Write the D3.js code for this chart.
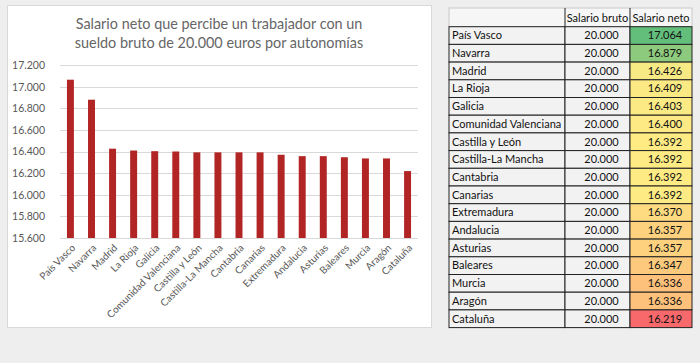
<!DOCTYPE html>
<html>
<head>
<meta charset="utf-8">
<script src="https://cdn.jsdelivr.net/npm/d3@7"></script>
<style>
  body { margin: 0; background: #efeeee; }
  svg { display: block; }
</style>
</head>
<body>
<div id="chart"></div>
<script>
const regions = ['País Vasco', 'Navarra', 'Madrid', 'La Rioja', 'Galicia', 'Comunidad Valenciana',
  'Castilla y León', 'Castilla-La Mancha', 'Cantabria', 'Canarias', 'Extremadura', 'Andalucia',
  'Asturias', 'Baleares', 'Murcia', 'Aragón', 'Cataluña'];
const neto = [17064, 16879, 16426, 16409, 16403, 16400, 16392, 16392, 16392, 16392, 16370, 16357,
  16357, 16347, 16336, 16336, 16219];
const bruto = [20000, 20000, 20000, 20000, 20000, 20000, 20000, 20000, 20000, 20000, 20000, 20000,
  20000, 20000, 20000, 20000, 20000];
const yTicks = [15600, 15800, 16000, 16200, 16400, 16600, 16800, 17000, 17200];
const titleLines = ['Salario neto que percibe un trabajador con un', 'sueldo bruto de 20.000 euros por autonomías'];
const headers = ['', 'Salario bruto', 'Salario neto'];

const es = d3.formatLocale({ decimal: ',', thousands: '.', grouping: [3], currency: ['', '€'] });
const fmt = es.format(',');

const W = 700, H = 363;
const svg = d3.select('#chart').append('svg').attr('width', W).attr('height', H);

// ---- chart panel
svg.append('rect')
  .attr('x', 7.5).attr('y', 5.5).attr('width', 424).attr('height', 322)
  .attr('fill', '#fff').attr('stroke', '#d9d9d9');

const textColor = '#595959';
const font = 'Lato, "Open Sans", sans-serif';

svg.append('g').selectAll('text')
  .data(titleLines)
  .join('text')
  .attr('x', 219)
  .attr('y', (d, i) => 29 + i * 19)
  .attr('text-anchor', 'middle')
  .attr('fill', '#666')
  .style('font-family', font)
  .style('font-size', '14.4px')
  .text((d) => d);

const x = d3.scaleBand().domain(regions).range([60, 418]).paddingInner(0.67).paddingOuter(0.33);
const y = d3.scaleLinear().domain([15600, 17200]).range([238, 65]);

const grid = svg.append('g');
grid.selectAll('line')
  .data(yTicks)
  .join('line')
  .attr('x1', 60).attr('x2', 418)
  .attr('y1', (d) => Math.round(y(d)) + 0.5)
  .attr('y2', (d) => Math.round(y(d)) + 0.5)
  .attr('stroke', '#d9d9d9');

const yAxis = svg.append('g')
  .attr('transform', 'translate(52,0)')
  .call(d3.axisLeft(y).tickValues(yTicks).tickFormat(fmt).tickSize(0).tickPadding(7));
yAxis.select('.domain').remove();
yAxis.selectAll('text')
  .attr('fill', textColor)
  .style('font-family', font)
  .style('font-size', '10.5px');

svg.append('g').selectAll('rect')
  .data(neto)
  .join('rect')
  .attr('x', (d, i) => x(regions[i]))
  .attr('y', (d) => y(d))
  .attr('width', x.bandwidth())
  .attr('height', (d) => y(15600) - y(d))
  .attr('fill', '#b22525');

const xAxis = svg.append('g')
  .attr('transform', 'translate(0,238)')
  .call(d3.axisBottom(x).tickSize(0).tickPadding(0));
xAxis.select('.domain').remove();
xAxis.selectAll('text')
  .attr('text-anchor', 'end')
  .attr('dy', '0.35em')
  .attr('transform', 'translate(3,8) rotate(-45)')
  .attr('fill', textColor)
  .style('font-family', font)
  .style('font-size', '10px');

// ---- table
const colX = [449, 565, 630, 692];
const rowTop = 26.7, rowH = 17.7;
const headTop = 8;
const color = d3.scaleLinear()
  .domain([d3.min(neto), d3.median(neto), d3.max(neto)])
  .range(['#F8696B', '#FFEB84', '#63BE7B']);

const table = svg.append('g').style('font-family', font).style('font-size', '11px').attr('fill', '#111');

// header
table.append('rect')
  .attr('x', colX[0]).attr('y', headTop).attr('width', colX[3] - colX[0]).attr('height', rowTop - headTop)
  .attr('fill', '#f6f6f6').attr('stroke', '#c8c8c8');
table.selectAll('.hline')
  .data([colX[1], colX[2]])
  .join('line')
  .attr('x1', (d) => d).attr('x2', (d) => d)
  .attr('y1', headTop).attr('y2', rowTop)
  .attr('stroke', '#222');
table.selectAll('.htext')
  .data(headers)
  .join('text')
  .attr('x', (d, i) => (colX[i] + colX[i + 1]) / 2)
  .attr('y', rowTop - 5)
  .attr('text-anchor', 'middle')
  .text((d) => d);

const rows = table.selectAll('.row')
  .data(regions)
  .join('g')
  .attr('transform', (d, i) => `translate(0,${rowTop + i * rowH})`);

rows.append('rect')
  .attr('x', colX[0]).attr('width', colX[1] - colX[0]).attr('height', rowH)
  .attr('fill', '#f3f2f2').attr('stroke', '#222');
rows.append('rect')
  .attr('x', colX[1]).attr('width', colX[2] - colX[1]).attr('height', rowH)
  .attr('fill', '#f3f2f2').attr('stroke', '#222');
rows.append('rect')
  .attr('x', colX[2]).attr('width', colX[3] - colX[2]).attr('height', rowH)
  .attr('fill', (d, i) => color(neto[i])).attr('stroke', '#222');

rows.append('text')
  .attr('x', colX[0] + 3).attr('y', rowH - 5)
  .text((d) => d);
rows.append('text')
  .attr('x', (colX[1] + colX[2]) / 2 + 4).attr('y', rowH - 5)
  .attr('text-anchor', 'middle')
  .text((d, i) => fmt(bruto[i]));
rows.append('text')
  .attr('x', (colX[2] + colX[3]) / 2 + 4).attr('y', rowH - 5)
  .attr('text-anchor', 'middle')
  .text((d, i) => fmt(neto[i]));
</script>
</body>
</html>
